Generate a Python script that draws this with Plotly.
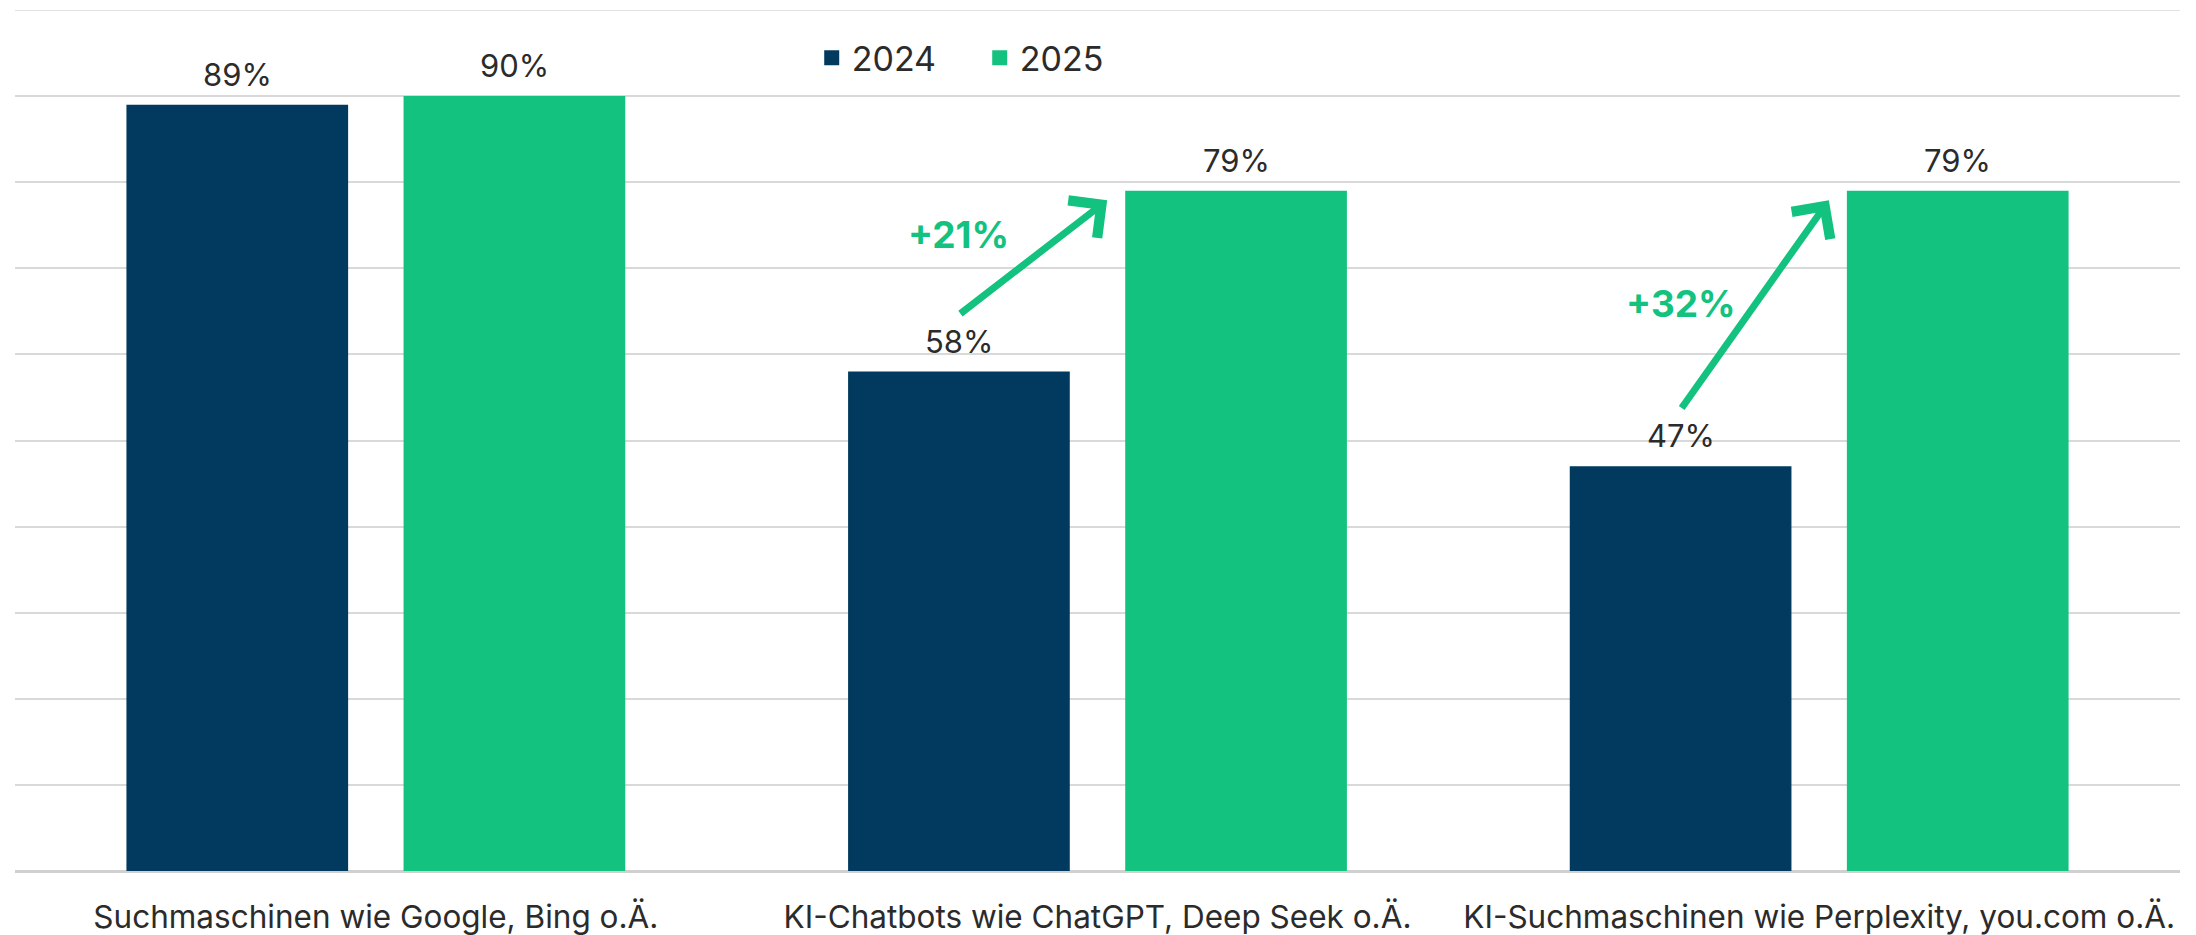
import plotly.graph_objects as go

categories = ["Suchmaschinen wie Google, Bing o.Ä.",
              "KI-Chatbots wie ChatGPT, Deep Seek o.Ä.",
              "KI-Suchmaschinen wie Perplexity, you.com o.Ä."]
years = ["2024", "2025"]
values_2024 = [89, 58, 47]
values_2025 = [90, 79, 79]
growth_labels = ["", "+21%", "+32%"]
growth_label_y = [None, 73.9, 65.9]

NAVY = "#013A5E"
GREEN = "#13C27F"
TEXT = "#2B2B2B"
FONT = "Inter, Lato, sans-serif"

fig = go.Figure()
for name, vals, col in [(years[0], values_2024, NAVY), (years[1], values_2025, GREEN)]:
    fig.add_trace(go.Bar(name=name, x=categories, y=vals, showlegend=False,
                         marker=dict(color=col, line=dict(width=0))))
    # legend entry with a larger square symbol
    fig.add_trace(go.Scatter(name=name, x=[None], y=[None], mode="markers",
                             marker=dict(symbol="square", size=15, color=col)))

# bar geometry (category units)
bargap = 0.232
bargroupgap = 0.2
slot = (1 - bargap) / 2
off24 = -slot / 2
off25 = slot / 2
bar_half = slot * (1 - bargroupgap) / 2

annotations = []
for i, (v24, v25) in enumerate(zip(values_2024, values_2025)):
    for off, v in [(off24, v24), (off25, v25)]:
        annotations.append(dict(x=i + off, y=v, xref="x", yref="y", text=f"{v}%",
                                showarrow=False, yanchor="bottom", yshift=10,
                                font=dict(family=FONT, size=31, color=TEXT)))
    if growth_labels[i]:
        annotations.append(dict(x=i + off25 - bar_half - 0.025, y=v25 - 1.1,
                                ax=i + off24, ay=v24 + 6.6,
                                xref="x", yref="y", axref="x", ayref="y",
                                text="", showarrow=True, arrowhead=4, arrowsize=1.3,
                                arrowwidth=7, arrowcolor=GREEN, standoff=0, startstandoff=0))
        annotations.append(dict(x=i + off24, y=growth_label_y[i], xref="x", yref="y",
                                text=f"<b>{growth_labels[i]}</b>", showarrow=False,
                                font=dict(family=FONT, size=37, color=GREEN)))

fig.update_layout(
    width=2196, height=935,
    margin=dict(l=7, r=24, t=2, b=72, autoexpand=False),
    paper_bgcolor="white", plot_bgcolor="white",
    barmode="group", bargap=bargap, bargroupgap=bargroupgap,
    font=dict(family=FONT, color=TEXT, size=30),
    legend=dict(orientation="h", x=0.368, y=0.944, xanchor="left", yanchor="middle",
                font=dict(family=FONT, size=34, color=TEXT), itemwidth=30,
                entrywidth=123, entrywidthmode="pixels",
                bgcolor="rgba(0,0,0,0)", traceorder="normal"),
    annotations=annotations,
    shapes=[dict(type="line", xref="paper", yref="y", x0=0, x1=1, y0=100, y1=100,
                 line=dict(color="#D9D9D9", width=1.5), layer="below")],
    showlegend=True,
)
fig.update_xaxes(showgrid=False, showline=False, zeroline=False, ticks="", automargin=False,
                 tickfont=dict(family=FONT, size=31.5, color=TEXT), ticklabelstandoff=24)
fig.update_yaxes(range=[0, 100], dtick=10, showticklabels=False, showgrid=True, automargin=False,
                 gridcolor="#D9D9D9", gridwidth=1.5, zeroline=True, zerolinecolor="#D0D0D0",
                 zerolinewidth=3, showline=False)

fig.write_html("out.html")
